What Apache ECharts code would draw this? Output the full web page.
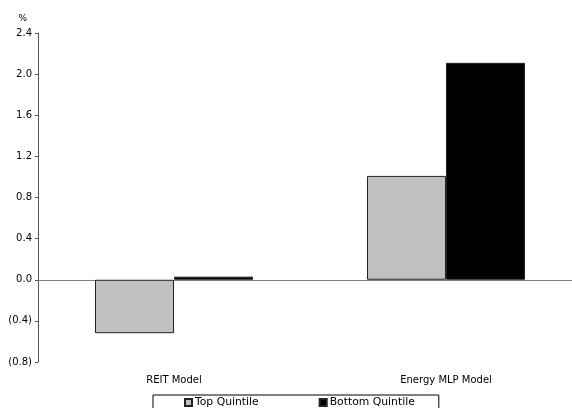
<!DOCTYPE html>
<html>
<head>
<meta charset="utf-8">
<script src="https://cdn.jsdelivr.net/npm/echarts@6/dist/echarts.min.js"></script>
<style>
  html, body { margin: 0; padding: 0; background: #fff; overflow: hidden; }
  #chart { width: 582px; height: 408px; }
</style>
</head>
<body>
<div id="chart"></div>
<script>
// Quintile spread by model (%)
const categories = ['REIT Model', 'Energy MLP Model'];
const topQuintile = [-0.52, 1.01];
const bottomQuintile = [0.03, 2.11];
const seriesNames = ['Top Quintile', 'Bottom Quintile'];
const yMin = -0.8, yMax = 2.4, yStep = 0.4;

const font = 'DejaVu Sans';

function fmtPct(v) {
  const s = Math.abs(v).toFixed(1);
  return v < -1e-9 ? '(' + s + ')' : s;
}

// the plot area runs slightly past the right edge of the visible page
const chart = echarts.init(document.getElementById('chart'), null, { renderer: 'canvas' });
chart.setOption({
  animation: false,
  backgroundColor: '#ffffff',
  textStyle: { fontFamily: font },
  grid: { left: 38, top: 33, right: 0, bottom: 46, containLabel: false },
  legend: {
    data: seriesNames,
    left: 153,
    top: 395,
    padding: [2, 24, 8, 31],
    itemGap: 60,
    itemWidth: 7,
    itemHeight: 7,
    icon: 'rect',
    borderColor: '#000',
    borderWidth: 1,
    textStyle: { fontFamily: font, fontSize: 10.8, color: '#000', padding: [0, 0, 0, -2] }
  },
  xAxis: [
    {
      type: 'category',
      data: categories,
      position: 'bottom',
      axisLine: { show: false, onZero: false },
      axisTick: { show: false },
      axisLabel: { fontFamily: font, fontSize: 10, color: '#000', margin: 13 }
    },
    {
      type: 'category',
      data: categories,
      axisLine: { show: true, onZero: true, lineStyle: { color: '#808080', width: 1 } },
      axisTick: { show: false },
      axisLabel: { show: false }
    }
  ],
  yAxis: {
    type: 'value',
    min: yMin,
    max: yMax,
    interval: yStep,
    name: '%',
    nameLocation: 'end',
    nameGap: 10,
    nameTextStyle: { fontFamily: font, fontSize: 9, color: '#000', align: 'right', padding: [0, 11, 0, 0] },
    axisLine: { show: true, lineStyle: { color: '#555', width: 1 } },
    axisTick: { show: true, length: 3, lineStyle: { color: '#555' } },
    splitLine: { show: false },
    axisLabel: { fontFamily: font, fontSize: 10, color: '#000', margin: 6, formatter: fmtPct }
  },
  series: [
    {
      name: seriesNames[0],
      type: 'bar',
      data: topQuintile,
      barWidth: 79,
      barGap: '0%',
      itemStyle: { color: '#c0c0c0', borderColor: '#222', borderWidth: 1 }
    },
    {
      name: seriesNames[1],
      type: 'bar',
      data: bottomQuintile,
      barWidth: 79,
      barGap: '0%',
      itemStyle: { color: '#000000', borderColor: '#222', borderWidth: 1 }
    }
  ]
});
</script>
</body>
</html>
